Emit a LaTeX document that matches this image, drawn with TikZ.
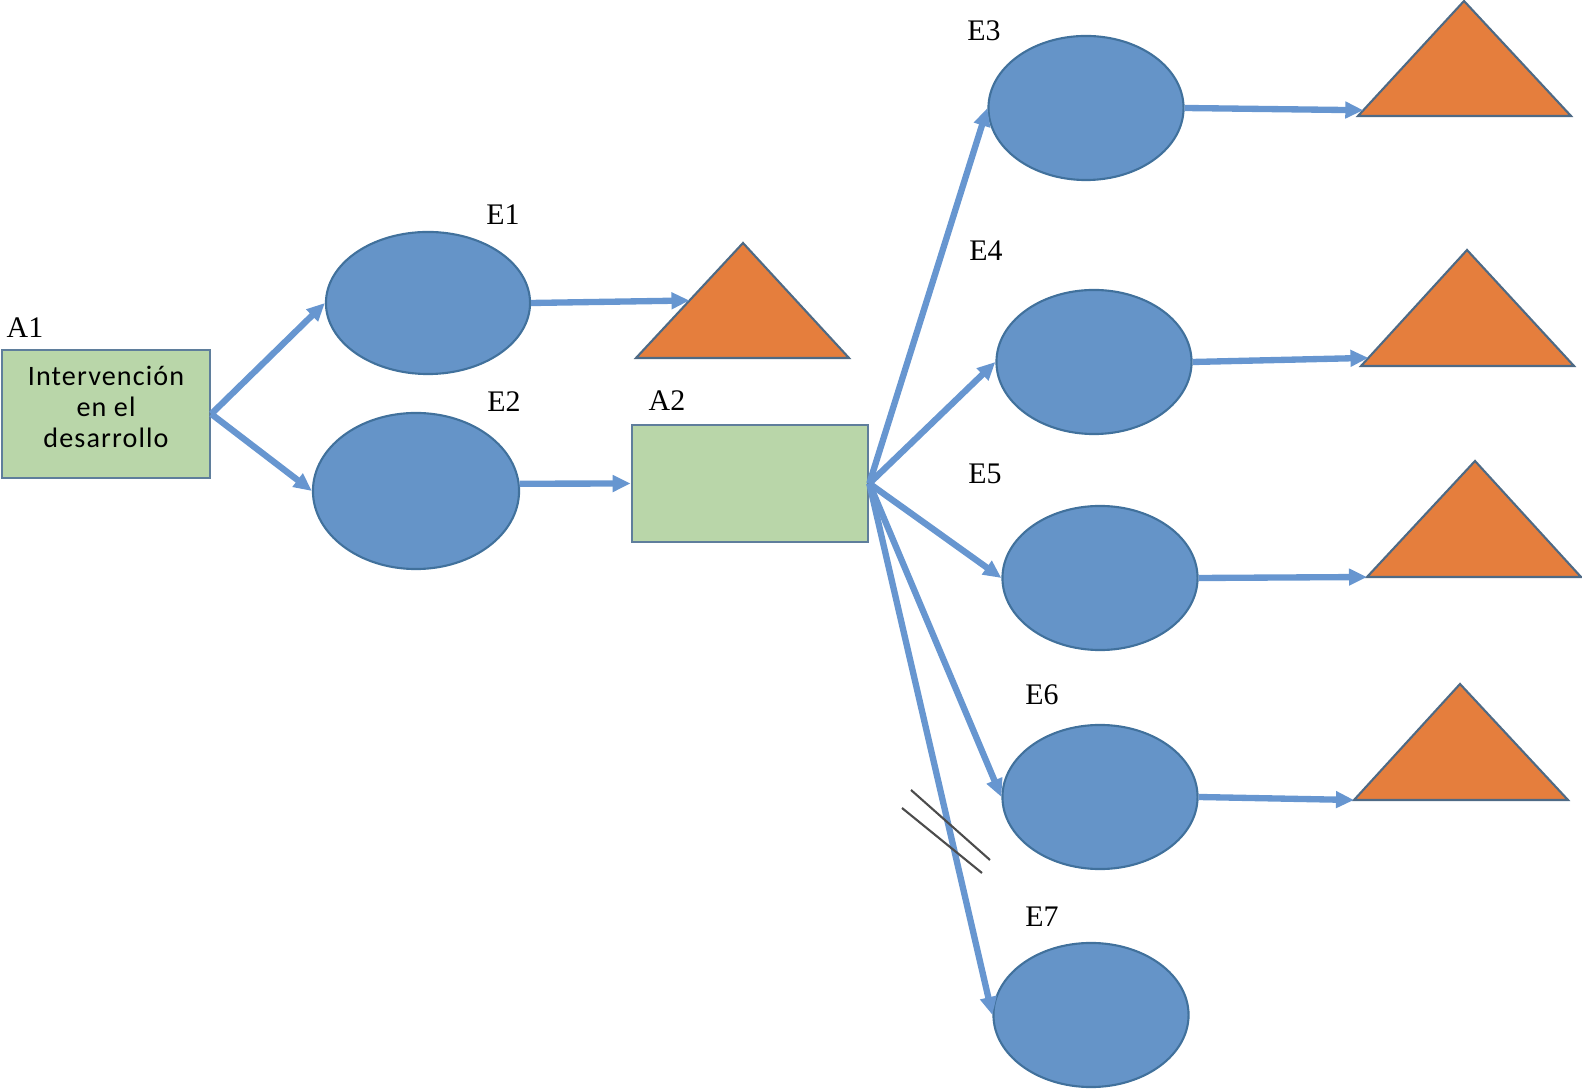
\documentclass[tikz,border=0pt]{standalone}
\usepackage{fontspec}
\setmainfont{Liberation Serif}
\newfontfamily\cajafont[LetterSpace=4]{Carlito}
\usepackage{xcolor}
\usetikzlibrary{shapes.geometric}
\usetikzlibrary{arrows.meta}
\usetikzlibrary{calc}
\usetikzlibrary{positioning}
\definecolor{azulE}{HTML}{6594C8}
\definecolor{bordeE}{HTML}{41719C}
\definecolor{azulF}{HTML}{6796D0}
\definecolor{verdeA}{HTML}{B9D6A9}
\definecolor{bordeA}{HTML}{5F7E9C}
\definecolor{naranjaT}{HTML}{E57E3D}
\definecolor{bordeT}{HTML}{4E6A85}

\begin{document}
\begin{tikzpicture}[x=0.01cm,y=-0.01cm,
		elip/.style={ellipse,draw=bordeE,fill=azulE,line width=0.6pt,inner sep=0pt},
		caja/.style={rectangle,draw=bordeA,fill=verdeA,line width=0.7pt,inner sep=0pt},
		tri/.style={draw=bordeT,fill=naranjaT,line width=0.6pt},
		flecha/.style={draw=azulF,line width=1.8pt,-{Triangle[length=1.8mm,width=1.6mm]}},
		etiq/.style={font=\fontsize{8.5}{10}\selectfont,inner sep=0pt}]
		\useasboundingbox (0,0) rectangle (1582,1089);
		% acciones
		\node[caja,minimum width=2.08cm,minimum height=1.28cm,align=center,text depth=0.14cm,
			font=\cajafont\fontsize{8}{8.8}\selectfont] (A1) at (106,414) {Intervención\\en el\\desarrollo};
		\node[caja,minimum width=2.36cm,minimum height=1.17cm] (A2) at (750,483.5) {};
		% eventos
		\node[elip,minimum width=2.04cm,minimum height=1.42cm] (E1) at (428,303) {};
		\node[elip,minimum width=2.06cm,minimum height=1.56cm] (E2) at (416,491) {};
		\foreach \n/\x/\y in {3/1086/108,4/1094/362,5/1100/578,6/1100/797,7/1091/1015}
		{
			\node[elip,minimum width=1.95cm,minimum height=1.44cm] (E\n) at (\x,\y) {};
		}
		% etiquetas
		\foreach \t/\x/\y in {A1/25/328,A2/667/401,E1/503/215,E2/504/402,E3/984/31,
			E4/986/251,E5/985/474,E6/1042/695,E7/1042/917}
		{
			\node[etiq] (l\t) at (\x,\y) {\t};
		}
		% resultados
		\foreach \n/\ax/\ay/\lx/\rx/\by in {1/743/243/636/849/358,3/1464/1/1358/1571/116,
			4/1467/250/1361/1574/366,5/1475/461/1367/1581/577,6/1460/684/1354/1568/800}
		{
			\draw[tri] (\ax,\ay) coordinate (ap\n) -- (\rx,\by) coordinate (de\n)
				-- (\lx,\by) coordinate (iz\n) -- cycle;
		}
		% flechas
		\foreach \n in {1,2}
		{
			\draw[flecha] (A1.east) -- (E\n.west);
		}
		\draw[flecha] (E2.4) -- (A2.west);
		\foreach \n in {3,...,7}
		{
			\draw[flecha] (A2.east) -- (E\n.west);
		}
		\foreach \n/\f in {1/0.5,3/0.05,4/0.07,5/0,6/0}
		{
			\draw[flecha] (E\n.east) -- ($(iz\n)!\f!(ap\n)$);
		}
		% corte
		\draw[gray!60!black,line width=0.6pt] (911,790) -- (990,860);
		\draw[gray!60!black,line width=0.6pt] (902,808) -- (982,873);
\end{tikzpicture}
\end{document}
